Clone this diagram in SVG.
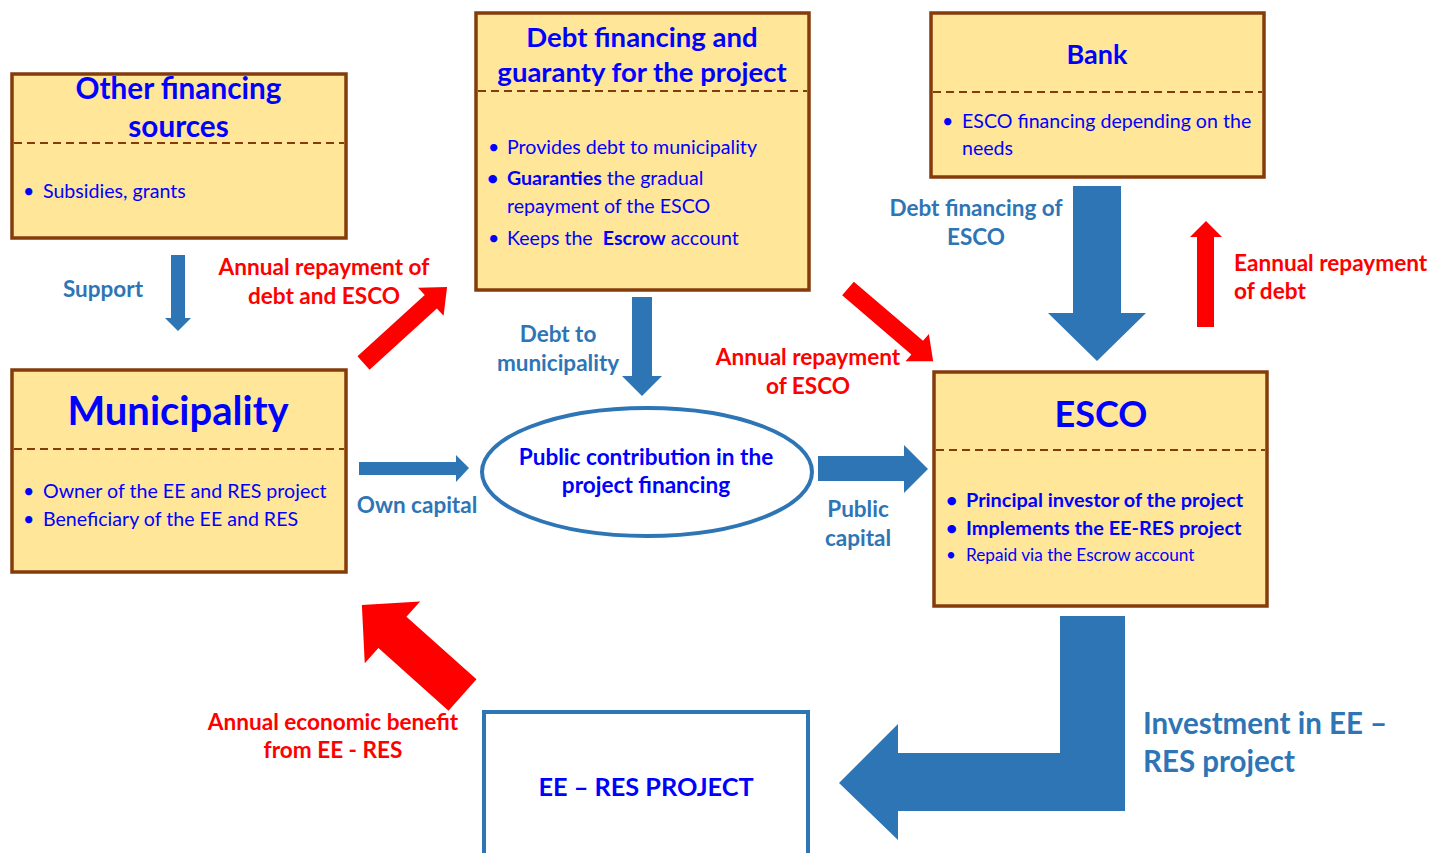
<svg xmlns="http://www.w3.org/2000/svg" width="1433" height="853" viewBox="0 0 1433 853">
<style>
text{font-family:Lato,"Liberation Sans",sans-serif;}
.box{fill:#FFE699;stroke:#843C0C;stroke-width:3.5;}
.dash{stroke:#843C0C;stroke-width:2;stroke-dasharray:8 5;fill:none;}
.title{fill:#0000FF;font-weight:bold;text-anchor:middle;}
.bul{fill:#0000FF;font-size:19.6px;}
.bb{font-weight:bold;}
.lbl{fill:#2E75B6;font-weight:bold;font-size:22.5px;}
.red{fill:#FF0000;font-weight:bold;font-size:22.6px;}
.mid{text-anchor:middle;}
.ba{fill:#2E75B6;}
.ra{fill:#FF0000;}
</style>

<g id="connectors">
  <polygon class="ba" points="171,255 185,255 185,318 191,318 178,331 165,318 171,318"/>
  <polygon class="ba" points="632,297 652,297 652,376 662,376 642,396 622,376 632,376"/>
  <polygon class="ba" points="1073,186 1121,186 1121,313 1146,313 1097,361 1048,313 1073,313"/>
  <polygon class="ba" points="359,462 456,462 456,455 469,468 456,482 456,475 359,475"/>
  <polygon class="ba" points="818,456 904,456 904,445 928,469 904,493 904,481 818,481"/>
  <polygon class="ba" points="1060,616 1125,616 1125,811 898,811 898,840 839,783 898,724 898,753 1060,753"/>
  <polygon class="ra" transform="translate(363.5,363) rotate(-42.3)" points="0,-9 91,-9 91,-19 113,0 91,19 91,9 0,9"/>
  <polygon class="ra" transform="translate(848,288.5) rotate(40.5)" points="0,-9 91,-9 91,-18 112,0 91,18 91,9 0,9"/>
  <polygon class="ra" transform="translate(462.5,695) rotate(221.8)" points="0,-21 94,-21 94,-41.5 135,0 94,41.5 94,21 0,21"/>
  <polygon class="ra" points="1197,327 1197,237 1190,237 1206,221 1222,237 1214,237 1214,327"/>
  <text class="lbl mid" x="103" y="297">Support</text>
  <text class="red mid" x="324" y="275">Annual repayment of</text>
  <text class="red mid" x="324" y="304">debt and ESCO</text>
  <text class="lbl mid" x="558" y="342">Debt to</text>
  <text class="lbl mid" x="558" y="371">municipality</text>
  <text class="red mid" x="808" y="365">Annual repayment</text>
  <text class="red mid" x="808" y="394">of ESCO</text>
  <text class="lbl mid" x="417" y="513">Own capital</text>
  <text class="lbl mid" x="858" y="517">Public</text>
  <text class="lbl mid" x="858" y="546">capital</text>
  <text class="lbl mid" x="976" y="216">Debt financing of</text>
  <text class="lbl mid" x="976" y="245">ESCO</text>
  <text class="red" x="1234" y="271">Eannual repayment</text>
  <text class="red" x="1234" y="299">of debt</text>
  <text class="red mid" x="333" y="730">Annual economic benefit</text>
  <text class="red mid" x="333" y="758">from EE - RES</text>
  <text class="lbl" x="1143" y="734" style="font-size:29.5px">Investment in EE –</text>
  <text class="lbl" x="1143" y="772" style="font-size:29.5px">RES project</text>
</g>

<g id="other-financing">
  <rect class="box" x="12" y="74" width="334" height="164"/>
  <line class="dash" x1="14" y1="143" x2="344" y2="143"/>
  <text class="title" x="178.5" y="99" font-size="29.7">Other financing</text>
  <text class="title" x="178.5" y="137" font-size="29.7">sources</text>
  <text class="bul" x="23" y="198">•</text>
  <text class="bul" x="43" y="198">Subsidies, grants</text>
</g>

<g id="debt-financing">
  <rect class="box" x="476" y="13" width="333" height="277"/>
  <line class="dash" x1="478" y1="91" x2="807" y2="91"/>
  <text class="title" x="642" y="47" font-size="27.5">Debt financing and</text>
  <text class="title" x="642" y="82" font-size="27.5">guaranty for the project</text>
  <text class="bul" x="488" y="154">•</text>
  <text class="bul" x="507" y="154">Provides debt to municipality</text>
  <text class="bul bb" x="487" y="185">•</text>
  <text class="bul" x="507" y="185"><tspan class="bb">Guaranties</tspan> the gradual</text>
  <text class="bul" x="507" y="213">repayment of the ESCO</text>
  <text class="bul" x="488" y="245">•</text>
  <text class="bul" x="507" y="245">Keeps the&#160; <tspan class="bb">Escrow</tspan> account</text>
</g>

<g id="bank">
  <rect class="box" x="931" y="13" width="333" height="164"/>
  <line class="dash" x1="933" y1="92" x2="1262" y2="92"/>
  <text class="title" x="1097" y="64" font-size="27">Bank</text>
  <text class="bul" x="942" y="128">•</text>
  <text class="bul" x="962" y="128">ESCO financing depending on the</text>
  <text class="bul" x="962" y="155">needs</text>
</g>

<g id="municipality">
  <rect class="box" x="12" y="370" width="334" height="202"/>
  <line class="dash" x1="14" y1="449" x2="344" y2="449"/>
  <text class="title" x="178" y="425" font-size="40">Municipality</text>
  <text class="bul" x="23" y="498">•</text>
  <text class="bul" x="43" y="498">Owner of the EE and RES project</text>
  <text class="bul" x="23" y="526">•</text>
  <text class="bul" x="43" y="526">Beneficiary of the EE and RES</text>
</g>

<g id="public-contribution">
  <ellipse cx="647" cy="472" rx="165" ry="64" fill="#FFFFFF" stroke="#2E75B6" stroke-width="4"/>
  <text class="title" x="646" y="465" font-size="22.6">Public contribution in the</text>
  <text class="title" x="646" y="493" font-size="22.6">project financing</text>
</g>

<g id="esco">
  <rect class="box" x="934" y="372" width="333" height="234"/>
  <line class="dash" x1="936" y1="450" x2="1265" y2="450"/>
  <text class="title" x="1101" y="427" font-size="36">ESCO</text>
  <text class="bul bb" x="946" y="507">•</text>
  <text class="bul bb" x="966" y="507" style="font-size:19.9px">Principal investor of the project</text>
  <text class="bul bb" x="946" y="535">•</text>
  <text class="bul bb" x="966" y="535" style="font-size:19.9px">Implements the EE-RES project</text>
  <text class="bul" x="946" y="561" style="font-size:17.2px">•</text>
  <text class="bul" x="966" y="561" style="font-size:17.2px">Repaid via the Escrow account</text>
</g>

<g id="ee-res-project">
  <rect x="484" y="712" width="324" height="160" fill="#FFFFFF" stroke="#2E75B6" stroke-width="4"/>
  <text class="title" x="646" y="796" font-size="25.3">EE – RES PROJECT</text>
</g>
</svg>
